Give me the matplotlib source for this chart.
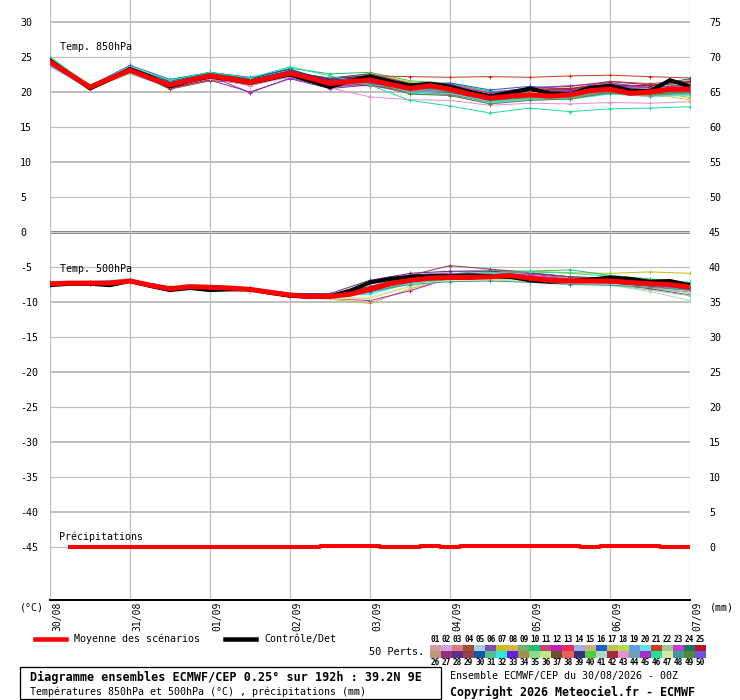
import matplotlib
matplotlib.use('Agg')
import matplotlib.pyplot as plt
from matplotlib.patches import Rectangle
from matplotlib.lines import Line2D
from matplotlib import transforms

plt.rcParams['font.family'] = ['DejaVu Sans Mono', 'DejaVu Sans']

# --- data -----------------------------------------------------------------
hours_6h = list(range(0, 193, 6))
hours_12h = list(range(0, 193, 12))
day_hours = list(range(0, 193, 24))
day_labels = ['30/08', '31/08', '01/09', '02/09', '03/09', '04/09', '05/09', '06/09', '07/09']

left_ticks = list(range(-45, 31, 5))
right_ticks = list(range(0, 76, 5))

mean_850 = [24.3, 22.5, 20.7, 21.9, 23.1, 22.0, 21.0, 21.7, 22.3, 21.9, 21.4, 22.0, 22.7,
            22.0, 21.2, 21.5, 21.7, 21.1, 20.5, 20.9, 20.4, 19.7, 19.1, 19.4, 19.6, 19.4,
            19.6, 20.2, 20.4, 19.8, 20.0, 20.4, 20.4]
ctrl_850 = [24.5, 22.5, 20.5, 21.8, 23.3, 22.2, 20.8, 21.6, 22.2, 21.8, 21.3, 21.9, 22.5,
            21.6, 20.7, 21.6, 22.2, 21.5, 20.9, 21.2, 20.8, 20.0, 19.4, 19.9, 20.5, 19.8,
            19.7, 20.6, 20.9, 20.2, 20.1, 21.7, 20.8]
mean_500 = [-7.4, -7.3, -7.3, -7.3, -7.0, -7.6, -8.1, -7.8, -7.9, -8.0, -8.2, -8.6, -9.0,
            -9.2, -9.2, -8.9, -8.2, -7.4, -6.9, -6.6, -6.5, -6.5, -6.4, -6.2, -6.6, -6.9,
            -7.0, -7.0, -7.0, -7.2, -7.4, -7.5, -7.9]
ctrl_500 = [-7.6, -7.4, -7.4, -7.6, -7.0, -7.7, -8.3, -8.0, -8.3, -8.2, -8.2, -8.7, -9.1,
            -9.3, -9.2, -8.4, -7.2, -6.7, -6.4, -6.3, -6.3, -6.2, -6.3, -6.4, -6.9, -7.1,
            -7.0, -6.8, -6.5, -6.7, -7.1, -7.0, -7.6]

precip_hours = list(range(6, 193, 6))
precip_mean = [0, 0, 0, 0, 0, 0, 0, 0, 0, 0, 0, 0, 0, 0.1, 0.1, 0.1,
               0, 0, 0.1, 0, 0.1, 0.1, 0.1, 0.1, 0.1, 0.1, 0, 0.1, 0.1, 0.1, 0, 0]
precip_ctrl = [0, 0, 0, 0, 0, 0, 0, 0, 0, 0, 0, 0, 0, 0, 0, 0,
               0, 0, 0, 0, 0, 0, 0, 0, 0, 0, 0, 0, 0, 0, 0, 0]

member_colors = [
    '#d09aa0', '#d0a0e0', '#e07880', '#a05030', '#a0d0e8', '#8050b0', '#c0c020', '#d8b050',
    '#70b070', '#20c070', '#c04878', '#c020b0', '#e03060', '#a0b0e0', '#c8b080', '#2060c0',
    '#c0c060', '#b0e050', '#60a0e0', '#60e0f0', '#c04020', '#a0c8a0', '#c040d0', '#207060',
    '#b01828', '#c09878', '#903080', '#603080', '#904050', '#1858a0', '#50c090', '#30e8e0',
    '#6020e0', '#a09050', '#90d890', '#c0e888', '#705028', '#e86058', '#383080', '#50d040',
    '#b0d8c8', '#a02840', '#e890d0', '#70a0b8', '#a030c8', '#20e098', '#d8e8a0', '#409898',
    '#508838', '#7050e8']

members_850 = [
    [24.0, 20.6, 22.9, 21.1, 22.0, 21.2, 22.5, 21.5, 22.0, 20.9, 20.8, 19.6, 20.1, 19.9, 20.6, 20.3, 20.7],
    [24.5, 20.8, 23.3, 21.2, 22.5, 21.8, 23.0, 21.6, 21.3, 20.1, 19.8, 18.7, 19.2, 19.3, 20.0, 19.8, 19.9],
    [23.8, 20.5, 22.8, 20.7, 22.1, 21.0, 22.4, 20.8, 21.2, 19.9, 19.7, 18.5, 19.0, 19.1, 19.9, 19.6, 19.8],
    [24.2, 20.7, 23.0, 20.4, 21.6, 21.3, 22.6, 21.0, 20.9, 20.3, 20.9, 19.8, 20.6, 20.8, 21.5, 21.2, 21.6],
    [24.6, 20.9, 23.5, 21.4, 22.6, 21.7, 23.1, 21.8, 22.3, 20.6, 20.0, 18.9, 19.4, 19.0, 19.8, 19.3, 19.5],
    [24.4, 20.6, 23.2, 21.1, 22.4, 21.5, 22.9, 21.9, 22.6, 21.3, 21.0, 19.9, 20.4, 20.3, 21.0, 20.6, 20.9],
    [24.1, 20.5, 22.7, 20.9, 22.2, 21.6, 22.8, 21.4, 21.9, 20.7, 21.1, 20.0, 20.5, 20.6, 21.2, 20.2, 19.2],
    [24.7, 20.8, 23.4, 21.3, 22.6, 21.4, 22.3, 20.9, 21.4, 20.4, 20.1, 19.0, 19.7, 19.5, 20.9, 20.5, 21.0],
    [23.9, 20.6, 23.0, 20.8, 22.3, 21.1, 22.6, 21.3, 21.8, 20.2, 19.9, 18.8, 19.3, 19.7, 20.3, 19.8, 20.2],
    [25.0, 20.9, 23.5, 21.6, 22.7, 21.9, 23.4, 22.6, 22.8, 21.6, 21.2, 20.1, 20.2, 20.1, 20.7, 20.9, 21.3],
    [24.3, 20.7, 23.1, 21.0, 22.2, 21.3, 22.8, 21.1, 21.6, 20.8, 20.6, 19.3, 19.8, 19.4, 20.2, 19.9, 20.3],
    [24.2, 20.6, 22.9, 21.2, 22.3, 21.6, 22.6, 21.7, 21.5, 20.3, 20.2, 19.4, 19.9, 20.2, 20.8, 20.4, 20.6],
    [24.5, 20.8, 23.2, 21.1, 22.4, 21.5, 22.7, 21.2, 21.0, 19.8, 19.6, 18.6, 19.1, 19.4, 20.1, 19.5, 19.7],
    [24.0, 20.7, 23.3, 20.9, 22.2, 21.2, 22.5, 21.0, 21.8, 20.5, 20.5, 19.2, 19.5, 19.6, 20.5, 20.1, 20.5],
    [24.4, 20.6, 23.0, 21.0, 22.1, 21.4, 22.8, 21.5, 22.1, 20.9, 20.7, 19.5, 19.9, 20.0, 20.6, 20.0, 20.3],
    [24.1, 20.9, 23.8, 21.8, 22.8, 22.1, 23.2, 21.6, 22.0, 21.0, 21.3, 20.3, 20.8, 20.4, 20.9, 20.7, 21.1],
    [24.6, 20.7, 23.1, 20.9, 22.3, 21.2, 22.4, 21.3, 22.5, 21.4, 20.9, 19.7, 20.3, 20.5, 21.1, 20.8, 21.2],
    [24.2, 20.5, 22.6, 20.8, 22.0, 21.0, 22.3, 21.6, 22.7, 21.5, 21.0, 19.6, 20.0, 19.8, 20.4, 19.7, 18.9],
    [23.7, 20.4, 22.9, 20.7, 22.1, 21.3, 22.6, 21.2, 21.7, 20.6, 20.3, 18.9, 19.4, 19.5, 20.2, 19.9, 20.1],
    [24.8, 21.0, 22.6, 20.6, 22.0, 21.0, 22.1, 20.7, 21.1, 19.9, 19.5, 18.4, 18.9, 19.0, 19.8, 19.4, 19.6],
    [24.5, 20.8, 23.2, 20.5, 21.8, 21.2, 22.5, 21.9, 22.3, 22.2, 22.1, 22.2, 22.1, 22.3, 22.4, 22.2, 22.0],
    [24.0, 20.6, 22.8, 21.0, 22.2, 21.4, 22.6, 21.4, 21.9, 20.7, 20.6, 19.2, 19.6, 19.8, 20.3, 20.2, 20.6],
    [24.3, 20.7, 23.0, 21.1, 22.4, 21.5, 22.9, 21.5, 21.9, 21.0, 21.1, 19.8, 20.3, 20.4, 21.1, 20.5, 20.8],
    [24.4, 20.8, 23.1, 21.2, 22.5, 21.6, 22.8, 21.3, 21.6, 20.4, 20.2, 19.1, 19.7, 20.0, 20.9, 20.9, 21.9],
    [24.2, 20.6, 23.3, 21.0, 22.3, 21.5, 22.7, 21.2, 21.7, 20.6, 20.7, 19.7, 20.4, 20.5, 21.0, 20.9, 21.4],
    [24.1, 20.6, 23.0, 20.9, 22.1, 21.3, 22.5, 21.1, 21.4, 20.3, 20.0, 18.8, 19.3, 19.4, 20.1, 19.8, 20.0],
    [24.0, 20.5, 22.8, 20.6, 21.7, 20.0, 21.9, 20.5, 21.0, 20.0, 19.9, 18.8, 19.2, 19.3, 20.0, 19.6, 19.9],
    [24.5, 20.9, 23.4, 21.3, 22.6, 21.8, 23.0, 21.7, 22.1, 20.8, 20.5, 19.3, 19.9, 19.6, 20.3, 20.0, 20.4],
    [24.3, 20.7, 23.1, 21.0, 22.2, 21.3, 22.8, 22.0, 22.6, 21.2, 20.8, 19.4, 19.8, 20.0, 20.5, 20.2, 20.5],
    [24.2, 20.8, 23.4, 21.5, 22.8, 21.9, 23.3, 21.4, 21.8, 20.7, 20.6, 19.5, 20.0, 19.7, 20.5, 20.1, 20.6],
    [24.6, 20.7, 23.0, 21.0, 22.3, 21.2, 22.6, 21.0, 21.5, 20.2, 20.1, 18.7, 19.1, 19.2, 19.9, 19.5, 19.7],
    [24.4, 20.6, 22.9, 20.9, 22.1, 21.1, 22.4, 20.9, 21.3, 20.0, 19.8, 18.6, 19.0, 19.0, 19.7, 19.4, 19.8],
    [24.3, 20.7, 23.2, 21.1, 22.5, 21.6, 22.9, 21.6, 22.2, 21.0, 20.9, 19.6, 20.2, 20.1, 20.7, 20.3, 20.7],
    [24.1, 20.6, 23.0, 21.0, 22.2, 21.4, 22.6, 21.2, 21.8, 20.6, 20.4, 19.0, 19.2, 19.3, 19.8, 19.5, 19.9],
    [24.7, 20.8, 23.1, 21.2, 22.4, 21.5, 22.7, 21.3, 21.7, 20.4, 20.3, 19.2, 19.8, 19.9, 20.6, 20.4, 20.9],
    [24.2, 20.5, 22.7, 20.8, 22.0, 21.1, 22.5, 21.0, 21.5, 20.5, 20.8, 19.7, 20.2, 19.8, 20.4, 19.9, 20.2],
    [24.0, 20.7, 23.1, 21.0, 22.3, 21.3, 22.7, 21.4, 21.9, 20.5, 20.0, 18.9, 19.5, 19.6, 20.2, 20.0, 20.3],
    [24.5, 20.8, 23.0, 20.8, 22.0, 20.9, 22.3, 20.8, 21.4, 20.3, 20.2, 19.0, 19.5, 19.7, 20.4, 20.0, 20.4],
    [24.3, 20.7, 23.3, 21.3, 22.6, 21.7, 23.0, 21.8, 22.4, 21.1, 20.7, 19.5, 20.1, 19.8, 20.6, 20.3, 20.8],
    [24.2, 20.6, 23.0, 21.1, 22.4, 21.5, 22.6, 21.1, 21.6, 20.6, 20.4, 19.3, 19.6, 19.5, 20.3, 19.7, 20.0],
    [24.4, 20.7, 23.2, 21.0, 22.3, 21.3, 22.7, 21.2, 21.8, 20.5, 20.3, 19.1, 19.6, 19.6, 20.3, 20.0, 20.5],
    [24.1, 20.6, 22.9, 21.2, 22.5, 21.7, 22.9, 21.5, 22.1, 20.9, 20.9, 19.6, 20.1, 20.4, 21.5, 21.0, 21.5],
    [24.0, 20.5, 22.7, 20.9, 21.9, 21.0, 22.2, 20.6, 19.3, 18.9, 18.8, 18.1, 18.4, 18.3, 18.5, 18.4, 18.6],
    [24.6, 20.8, 23.1, 21.0, 22.2, 21.3, 22.5, 21.0, 21.4, 20.2, 20.1, 18.9, 19.4, 19.4, 20.0, 19.7, 20.0],
    [24.3, 20.6, 23.0, 21.3, 22.3, 19.9, 22.0, 20.7, 21.2, 20.6, 20.8, 19.9, 20.6, 20.9, 21.3, 20.6, 21.0],
    [24.8, 20.9, 23.5, 21.7, 22.8, 22.0, 23.6, 22.3, 21.0, 18.8, 18.0, 17.0, 17.7, 17.2, 17.6, 17.7, 17.9],
    [24.1, 20.6, 22.8, 21.0, 22.1, 21.2, 22.4, 21.1, 21.6, 20.4, 20.3, 19.4, 19.9, 19.9, 20.5, 20.2, 20.4],
    [24.4, 20.7, 23.1, 21.1, 22.4, 21.4, 22.7, 21.3, 21.7, 20.5, 20.2, 18.9, 19.5, 19.7, 20.4, 20.1, 20.6],
    [24.2, 20.7, 23.2, 21.0, 22.3, 21.5, 22.8, 21.4, 21.5, 19.7, 19.5, 18.3, 18.8, 19.0, 19.9, 19.7, 20.0],
    [24.5, 20.8, 23.0, 21.1, 22.4, 21.4, 22.6, 21.3, 21.9, 20.6, 20.4, 19.1, 19.7, 19.6, 20.4, 19.9, 20.2],
]

members_500 = [
    [-7.3, -7.2, -7.0, -8.0, -7.8, -8.1, -8.9, -9.1, -7.8, -6.6, -6.3, -6.2, -6.5, -6.9, -7.1, -7.6, -8.2],
    [-7.6, -7.4, -7.1, -8.2, -8.0, -8.3, -9.1, -9.0, -7.5, -6.2, -5.7, -5.4, -5.9, -6.4, -6.6, -7.0, -7.5],
    [-7.2, -7.3, -6.9, -8.0, -7.7, -8.0, -8.8, -9.3, -8.6, -7.3, -6.8, -6.6, -6.7, -7.2, -7.3, -7.9, -8.6],
    [-7.5, -7.2, -6.8, -7.9, -7.9, -8.3, -9.1, -9.4, -8.3, -6.8, -6.5, -6.5, -6.9, -7.2, -7.0, -7.3, -7.8],
    [-7.4, -7.4, -7.0, -8.2, -8.0, -8.2, -9.0, -9.1, -8.0, -6.9, -6.6, -6.3, -6.4, -6.7, -6.9, -7.4, -7.7],
    [-7.3, -7.3, -7.1, -8.1, -7.8, -8.1, -8.9, -9.0, -7.3, -6.1, -5.9, -6.0, -6.3, -6.8, -7.1, -7.5, -8.0],
    [-7.5, -7.4, -7.0, -8.2, -8.1, -8.4, -9.2, -9.6, -10.2, -8.1, -6.8, -6.2, -5.6, -5.8, -5.9, -5.7, -5.9],
    [-7.4, -7.3, -7.2, -8.0, -7.9, -8.2, -9.0, -9.3, -8.4, -7.0, -6.4, -6.2, -6.5, -6.9, -7.0, -7.4, -7.9],
    [-7.3, -7.2, -7.0, -8.1, -8.0, -8.3, -9.1, -9.2, -8.1, -6.8, -6.5, -6.6, -6.9, -7.4, -7.6, -8.0, -8.6],
    [-7.2, -7.3, -6.9, -8.0, -7.8, -8.0, -8.8, -8.9, -7.8, -6.4, -6.0, -5.5, -5.6, -5.4, -6.2, -6.7, -7.2],
    [-7.5, -7.4, -7.1, -8.2, -7.9, -8.2, -9.1, -9.3, -8.2, -6.7, -6.3, -6.3, -6.6, -7.1, -7.2, -7.6, -8.1],
    [-7.4, -7.3, -7.0, -8.0, -7.9, -8.1, -8.9, -9.5, -9.8, -8.4, -6.6, -6.1, -6.0, -6.6, -6.9, -7.2, -7.6],
    [-7.3, -7.2, -7.0, -8.1, -8.0, -8.3, -9.0, -9.2, -8.3, -7.0, -6.6, -6.5, -6.8, -7.1, -7.2, -7.7, -8.3],
    [-7.6, -7.4, -7.1, -8.1, -7.9, -8.2, -9.0, -9.1, -8.0, -6.8, -6.4, -6.4, -6.6, -6.9, -7.0, -7.3, -7.7],
    [-7.4, -7.3, -7.0, -8.0, -7.8, -8.1, -8.9, -9.2, -8.3, -7.1, -6.7, -6.6, -6.9, -7.3, -7.3, -7.6, -8.0],
    [-7.3, -7.2, -6.9, -7.9, -7.7, -8.0, -8.8, -9.0, -7.9, -6.6, -6.3, -6.2, -6.4, -6.8, -7.0, -7.5, -8.1],
    [-7.5, -7.4, -7.1, -8.2, -8.0, -8.3, -9.1, -9.4, -8.5, -7.2, -6.8, -6.7, -6.9, -7.4, -7.5, -7.9, -8.4],
    [-7.4, -7.3, -7.0, -8.1, -7.9, -8.1, -8.9, -9.3, -8.6, -7.0, -6.5, -6.3, -6.3, -6.6, -6.8, -7.2, -7.7],
    [-7.3, -7.2, -7.0, -8.0, -7.8, -8.2, -9.0, -9.2, -8.1, -6.8, -6.4, -6.4, -6.7, -7.2, -7.4, -7.8, -8.4],
    [-7.1, -7.1, -6.7, -7.9, -7.8, -8.1, -8.9, -9.1, -8.7, -7.2, -6.7, -6.6, -6.8, -7.2, -7.3, -7.6, -8.1],
    [-7.4, -7.3, -7.0, -8.1, -7.9, -8.2, -9.0, -9.2, -8.2, -6.9, -6.5, -6.3, -6.6, -7.0, -7.1, -7.5, -8.0],
    [-7.5, -7.4, -7.1, -8.1, -8.0, -8.3, -9.1, -9.3, -8.4, -7.1, -6.7, -6.6, -6.8, -7.3, -7.5, -8.0, -8.7],
    [-7.3, -7.3, -7.0, -8.0, -7.9, -8.2, -9.0, -9.1, -7.9, -6.5, -6.0, -5.8, -6.2, -6.7, -6.9, -7.3, -7.8],
    [-7.4, -7.3, -7.0, -8.1, -7.9, -8.1, -8.9, -9.2, -8.3, -7.0, -6.6, -6.5, -6.7, -7.0, -6.9, -7.1, -7.5],
    [-7.3, -7.2, -6.9, -8.0, -7.8, -8.1, -8.9, -9.1, -8.0, -6.7, -6.4, -6.3, -6.5, -6.9, -7.0, -7.4, -7.9],
    [-7.5, -7.4, -7.1, -8.2, -8.0, -8.3, -9.1, -9.3, -8.3, -7.0, -6.6, -6.5, -6.8, -7.2, -7.3, -7.7, -8.2],
    [-7.4, -7.3, -7.0, -8.1, -7.9, -8.2, -9.0, -9.2, -8.1, -6.9, -6.5, -6.3, -6.5, -7.0, -7.4, -8.1, -9.0],
    [-7.2, -7.2, -6.9, -8.0, -7.8, -8.0, -8.8, -8.8, -6.9, -5.9, -5.6, -5.6, -5.9, -6.4, -6.6, -7.0, -7.5],
    [-7.3, -7.3, -7.0, -8.1, -7.8, -8.0, -8.9, -9.0, -7.8, -6.2, -4.8, -5.3, -5.8, -6.4, -6.7, -7.1, -7.6],
    [-7.5, -7.3, -7.1, -8.1, -7.9, -8.2, -9.0, -9.2, -8.2, -6.9, -6.5, -6.4, -6.6, -6.9, -7.1, -7.4, -7.9],
    [-7.4, -7.4, -7.0, -8.2, -8.0, -8.3, -9.1, -9.4, -8.6, -7.2, -6.8, -6.8, -7.0, -7.4, -7.5, -7.8, -8.3],
    [-7.2, -7.2, -6.9, -8.0, -7.8, -8.1, -8.9, -9.1, -8.9, -7.3, -6.8, -6.6, -6.9, -7.3, -7.4, -7.7, -8.2],
    [-7.4, -7.3, -7.0, -8.1, -7.9, -8.2, -9.0, -9.2, -8.0, -6.6, -6.3, -6.2, -6.4, -6.8, -6.9, -7.3, -7.9],
    [-7.5, -7.4, -7.1, -8.1, -8.0, -8.3, -9.1, -9.3, -8.4, -7.1, -6.7, -6.6, -6.8, -7.2, -7.3, -7.6, -8.1],
    [-7.3, -7.3, -7.0, -8.0, -7.9, -8.1, -8.9, -9.2, -8.3, -7.0, -6.6, -6.5, -6.8, -7.3, -7.6, -8.3, -9.1],
    [-7.4, -7.3, -7.0, -8.1, -7.9, -8.2, -9.1, -9.6, -9.5, -7.8, -6.9, -6.7, -6.9, -7.1, -7.2, -7.6, -8.1],
    [-7.4, -7.3, -7.0, -8.0, -7.9, -8.2, -9.0, -9.2, -8.2, -6.9, -6.5, -6.4, -6.6, -7.0, -7.1, -7.5, -8.0],
    [-7.3, -7.2, -7.0, -8.1, -7.8, -8.1, -8.9, -9.1, -8.0, -6.7, -6.3, -6.3, -6.5, -6.9, -7.0, -7.4, -7.9],
    [-7.5, -7.4, -7.1, -8.2, -8.0, -8.3, -9.1, -9.3, -8.1, -6.8, -6.5, -6.4, -6.7, -7.1, -7.3, -7.8, -8.5],
    [-7.4, -7.3, -7.0, -8.1, -7.9, -8.2, -9.0, -9.2, -8.3, -6.9, -6.5, -6.4, -6.6, -7.0, -7.2, -7.6, -8.1],
    [-7.3, -7.3, -7.0, -8.0, -7.8, -8.1, -8.9, -9.2, -8.4, -7.1, -6.6, -6.5, -6.8, -7.3, -7.6, -8.5, -9.8],
    [-7.4, -7.3, -7.0, -8.1, -7.9, -8.2, -9.0, -9.1, -7.9, -6.6, -6.3, -6.3, -6.5, -6.9, -7.0, -7.4, -7.9],
    [-7.5, -7.4, -7.1, -8.2, -8.0, -8.3, -9.1, -9.3, -8.3, -7.0, -6.6, -6.5, -6.7, -7.1, -7.2, -7.5, -8.0],
    [-7.3, -7.2, -6.9, -8.0, -7.8, -8.1, -8.9, -9.1, -8.2, -6.9, -6.5, -6.5, -6.8, -7.3, -7.5, -7.9, -8.4],
    [-7.4, -7.3, -7.0, -8.1, -8.0, -8.4, -9.3, -9.4, -8.2, -6.9, -6.4, -6.3, -6.5, -6.9, -7.1, -7.5, -8.0],
    [-7.3, -7.3, -7.0, -8.1, -7.9, -8.2, -9.0, -9.2, -8.1, -6.8, -6.3, -5.8, -5.7, -5.9, -6.3, -6.8, -7.4],
    [-7.4, -7.3, -7.0, -8.1, -8.0, -8.3, -9.1, -9.5, -9.3, -7.7, -6.9, -6.8, -7.0, -7.4, -7.5, -7.9, -8.5],
    [-7.4, -7.3, -7.0, -8.1, -7.9, -8.2, -9.0, -9.2, -8.5, -7.5, -7.1, -7.0, -7.2, -7.5, -7.6, -7.9, -8.3],
    [-7.3, -7.3, -7.0, -8.0, -7.8, -8.1, -8.9, -9.2, -8.3, -7.0, -6.6, -6.5, -6.7, -7.0, -7.1, -7.5, -8.0],
    [-7.5, -7.4, -7.1, -8.1, -7.9, -8.2, -9.0, -9.3, -8.4, -7.0, -6.6, -6.5, -6.7, -7.1, -7.2, -7.6, -8.2],
]

# --- figure ---------------------------------------------------------------
W, H = 740, 700
PX = 72 / 100  # points per pixel at dpi 100


def fx(x):
    return x / W


def fy(y):
    return 1 - y / H


fig = plt.figure(figsize=(W / 100, H / 100), dpi=100)
ax = fig.add_axes([fx(50), fy(600), 640 / W, 600 / H])
ax.set_xlim(0, 192)
ylo, yhi = -45 - 53 / 7, 30 + 22 / 7
ax.set_ylim(ylo, yhi)

# grid
for v in left_ticks:
    if v == 0:
        ax.axhline(v, color='#8a8a8a', lw=3 * PX, zorder=1)
        ax.axhline(v, color='#cfcfcf', lw=1 * PX, zorder=1)
    elif v % 10 == 0:
        ax.axhline(v, color='#c0c0c0', lw=2 * PX, zorder=1)
    else:
        ax.axhline(v, color='#c0c0c0', lw=1.2 * PX, zorder=1)
for h in day_hours:
    ax.axvline(h, color='#c0c0c0', lw=1.3 * PX, zorder=1)

# ensemble members
for i in range(50):
    c = member_colors[i]
    ax.plot(hours_12h, members_850[i], color=c, lw=1 * PX, marker='+', ms=3, mew=1 * PX, zorder=2)
    ax.plot(hours_12h, members_500[i], color=c, lw=1 * PX, marker='+', ms=3, mew=1 * PX, zorder=2)

ax.plot(hours_6h, ctrl_850, color='black', lw=4 * PX, zorder=3)
ax.plot(hours_6h, ctrl_500, color='black', lw=4 * PX, zorder=3)
ax.plot(hours_6h, mean_850, color='#ff0000', lw=5 * PX, zorder=4)
ax.plot(hours_6h, mean_500, color='#ff0000', lw=5 * PX, zorder=4)

# precipitation on the right axis (mm)
ax2 = ax.twinx()
ax2.set_ylim(ylo + 45, yhi + 45)
ax2.plot(precip_hours, precip_ctrl, color='black', lw=2 * PX, drawstyle='steps-mid')
ax2.plot(precip_hours, precip_mean, color='#ff0000', lw=4 * PX, drawstyle='steps-mid')

# axes styling
for a in (ax, ax2):
    for s in ('left', 'right', 'top', 'bottom'):
        a.spines[s].set_visible(False)
ax.spines['bottom'].set_visible(True)
ax.spines['bottom'].set_color('black')
ax.spines['bottom'].set_linewidth(2 * PX)

ax.set_xticks([])
ax.set_yticks(left_ticks)
ax.set_yticklabels([str(v) for v in left_ticks])
ax.tick_params(axis='y', length=0, pad=30 * PX, labelsize=7.2)
for lab in ax.get_yticklabels():
    lab.set_horizontalalignment('left')
ax2.set_yticks(right_ticks)
ax2.set_yticklabels([str(v) for v in right_ticks])
ax2.tick_params(axis='y', length=0, pad=19 * PX, labelsize=7.2)
ax2.set_xticks([])

# date labels, rotated, just right of each day line
trans = transforms.blended_transform_factory(ax.transData, ax.transAxes)
off = transforms.ScaledTranslation(2 / 100, 0, fig.dpi_scale_trans)
for h, lab in zip(day_hours, day_labels):
    ax.text(h, -2 / 600, lab, transform=trans + off, rotation=90, ha='left', va='top',
            fontsize=7, clip_on=False)

# in-plot labels
fig.text(fx(60), fy(47), 'Temp. 850hPa', fontsize=7.2, va='center')
fig.text(fx(60), fy(269), 'Temp. 500hPa', fontsize=7.2, va='center')
fig.text(fx(59), fy(537), 'Précipitations', fontsize=7.2, va='center')
fig.text(fx(20), fy(607), '(°C)', fontsize=7.2, va='center')
fig.text(fx(710), fy(607), '(mm)', fontsize=7.2, va='center')

# legend
fig.add_artist(Line2D([fx(35), fx(66)], [fy(639), fy(639)], color='#ff0000', lw=4.5 * PX,
                      transform=fig.transFigure))
fig.text(fx(74), fy(639), 'Moyenne des scénarios', fontsize=7.2, va='center')
fig.add_artist(Line2D([fx(225), fx(256)], [fy(639), fy(639)], color='black', lw=4.5 * PX,
                      transform=fig.transFigure))
fig.text(fx(264), fy(639), 'Contrôle/Det', fontsize=7.2, va='center')
fig.text(fx(369), fy(652), '50 Perts.', fontsize=7.4, va='center')

bw = 11.04
for i in range(25):
    x0 = 430 + i * bw
    fig.add_artist(Rectangle((fx(x0), fy(651)), bw / W, 6.5 / H, color=member_colors[i],
                             transform=fig.transFigure, lw=0))
    fig.add_artist(Rectangle((fx(x0), fy(657.5)), bw / W, 6.5 / H, color=member_colors[i + 25],
                             transform=fig.transFigure, lw=0))
    fig.text(fx(x0 + bw / 2), fy(639.5), '%02d' % (i + 1), fontsize=5.6, fontweight='bold',
             ha='center', va='center')
    fig.text(fx(x0 + bw / 2), fy(662.5), '%02d' % (i + 26), fontsize=5.6, fontweight='bold',
             ha='center', va='center')

# title box
fig.add_artist(Rectangle((fx(20), fy(699)), 421 / W, 32 / H, fill=False, ec='black',
                         lw=1.3 * PX, transform=fig.transFigure))
fig.text(fx(30), fy(677), 'Diagramme ensembles ECMWF/CEP 0.25° sur 192h : 39.2N 9E',
         fontsize=8.5, fontweight='bold', va='center')
fig.text(fx(30), fy(692), 'Températures 850hPa et 500hPa (°C) , précipitations (mm)',
         fontsize=7.2, va='center')
fig.text(fx(450), fy(676), 'Ensemble ECMWF/CEP du 30/08/2026 - 00Z', fontsize=7.2, va='center')
fig.text(fx(450), fy(692), 'Copyright 2026 Meteociel.fr - ECMWF', fontsize=8.4,
         fontweight='bold', va='center')

fig.savefig('out.png', dpi=100)
